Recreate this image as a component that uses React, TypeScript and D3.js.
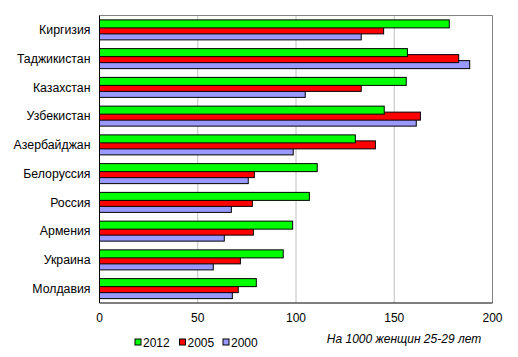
import React from "react";
import * as d3 from "d3";

const categories = ["Киргизия", "Таджикистан", "Казахстан", "Узбекистан", "Азербайджан", "Белоруссия", "Россия", "Армения", "Украина", "Молдавия"];
const seriesNames = ["2012", "2005", "2000"];
const values2012 = [178, 156.7, 156.1, 144.9, 130.2, 110.8, 106.8, 98.3, 93.5, 79.8];
const values2005 = [144.6, 182.8, 133.2, 163.3, 140.4, 78.8, 77.8, 78.3, 71.7, 70.6];
const values2000 = [133.2, 188.4, 104.7, 161.2, 98.6, 75.7, 67.1, 63.5, 57.9, 67.6];
const xTicks = [0, 50, 100, 150, 200];
const colors = ["#00ff00", "#ff0000", "#9999ff"];
const axisTitle = "На 1000 женщин 25-29 лет";

export default function App() {
  const W = 518, H = 357;
  const left = 99.5, right = 492.5, top = 15.5, bottom = 303;
  const x = d3.scaleLinear().domain([0, 200]).range([left, right]);
  const y = d3.scaleBand<string>().domain(categories).range([top, bottom]);
  const series = [values2012, values2005, values2000];
  const barH = 8, step = 6;
  const groupH = barH + step * 2;
  const font = "'Liberation Sans', Arial, sans-serif";
  const order = [2, 1, 0];
  return (
    <svg width={W} height={H} style={{ position: "absolute", left: 0, top: 0 }} fontFamily={font}>
      <rect x={0} y={0} width={W} height={H} fill="#fff" />
      {xTicks.slice(1, -1).map((t) => (
        <line key={t} x1={x(t)} x2={x(t)} y1={top} y2={bottom} stroke="#c0c0c0" strokeWidth={1} />
      ))}
      <line x1={left} x2={right} y1={top} y2={top} stroke="#808080" />
      <line x1={right} x2={right} y1={top} y2={bottom} stroke="#808080" />
      {categories.map((c, i) => {
        const y0 = (y(c) as number) + (y.bandwidth() - groupH) / 2;
        return (
          <g key={c}>
            {order.map((s) => (
              <rect
                key={s}
                x={x(0)}
                y={y0 + s * step}
                width={x(series[s][i]) - x(0)}
                height={barH}
                fill={colors[s]}
                stroke="#000"
                strokeWidth={1}
              />
            ))}
            <text x={90.5} y={(y(c) as number) + y.bandwidth() / 2} dy="0.35em" textAnchor="end" fontSize={12.3} fill="#000">
              {c}
            </text>
          </g>
        );
      })}
      <line x1={left} x2={left} y1={top} y2={bottom} stroke="#000" />
      <line x1={left} x2={right} y1={bottom} y2={bottom} stroke="#000" />
      {xTicks.map((t) => (
        <text key={t} x={x(t)} y={318} dy="0.35em" textAnchor="middle" fontSize={12} fill="#000">
          {t}
        </text>
      ))}
      {seriesNames.map((n, i) => {
        const lx = [135, 179.5, 223][i];
        return (
          <g key={n}>
            <rect x={lx} y={339} width={6} height={6} fill={colors[i]} stroke="#000" strokeWidth={1} />
            <text x={lx + 8} y={342.5} dy="0.35em" fontSize={12} fill="#000">
              {n}
            </text>
          </g>
        );
      })}
      <text x={404} y={339} dy="0.35em" textAnchor="middle" fontSize={12} fontStyle="italic" fill="#000" letterSpacing={0}>
        {axisTitle}
      </text>
    </svg>
  );
}
